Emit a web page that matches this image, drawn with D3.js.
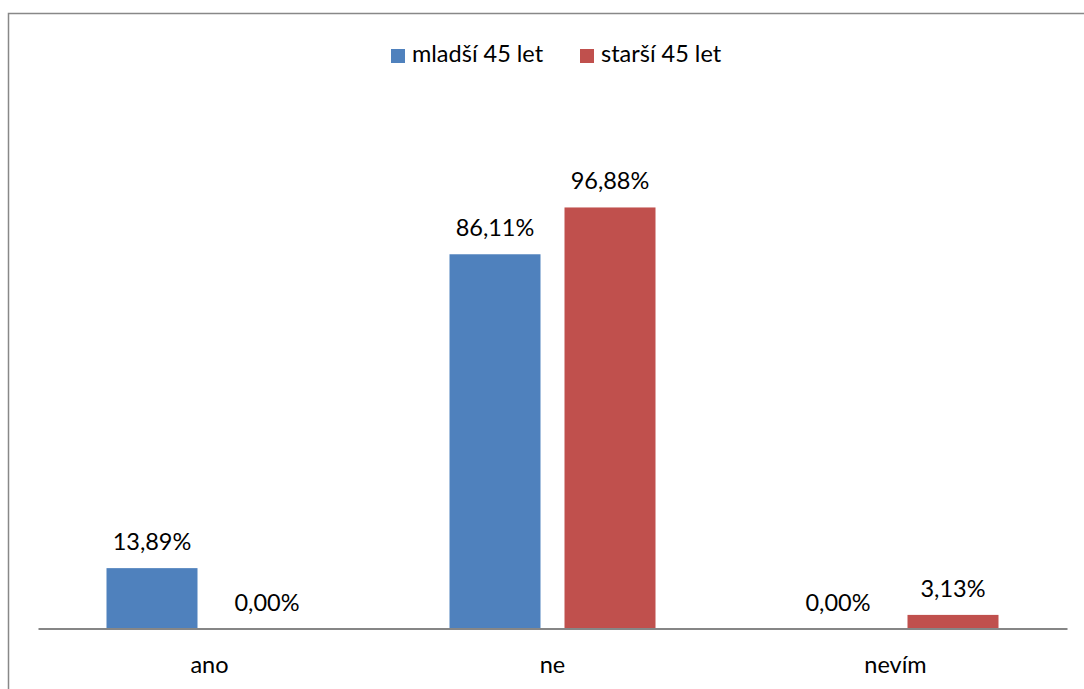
<!DOCTYPE html>
<html>
<head>
<meta charset="utf-8">
<script src="https://cdn.jsdelivr.net/npm/d3@7"></script>
<style>
  html, body { margin: 0; padding: 0; background: #fff; }
  svg { display: block; }
  text { font-family: Lato, "Open Sans", sans-serif; fill: #000; }
</style>
</head>
<body>
<svg id="chart" width="1084" height="689"></svg>
<script>
// Answers by age group (percent of respondents)
const categories = ["ano", "ne", "nevím"];
const seriesNames = ["mladší 45 let", "starší 45 let"];
const younger = [13.89, 86.11, 0.00];
const older = [0.00, 96.88, 3.13];
const seriesColors = ["#4F81BD", "#C0504D"];

const fmt = v => v.toFixed(2).replace(".", ",") + "%";
const FONT_SIZE = 23.5;

const svg = d3.select("#chart");
const W = 1084, H = 689;

// outer frame of the chart area
svg.append("rect")
  .attr("x", 8.5).attr("y", 13.5)
  .attr("width", W + 20).attr("height", H + 20)
  .attr("fill", "none")
  .attr("stroke", "#888888")
  .attr("stroke-width", 1.5);

const plot = { left: 38, right: 1067, bottom: 628.5 };

const x0 = d3.scaleBand()
  .domain(categories)
  .range([plot.left, plot.right])
  .paddingInner(0)
  .paddingOuter(0);

// two bars per group with a gap between them
const groupInner = 206;
const x1 = d3.scaleBand()
  .domain(seriesNames)
  .range([0, groupInner])
  .paddingInner(24 / 115)
  .paddingOuter(0);

const y = d3.scaleLinear()
  .domain([0, 100])
  .range([plot.bottom, plot.bottom - 434.6]);

const rows = categories.map((c, i) => ({
  category: c,
  values: [
    { series: seriesNames[0], value: younger[i], color: seriesColors[0] },
    { series: seriesNames[1], value: older[i], color: seriesColors[1] }
  ]
}));

const groups = svg.append("g").selectAll("g")
  .data(rows)
  .join("g")
  .attr("transform", d => `translate(${x0(d.category) + (x0.bandwidth() - groupInner) / 2},0)`);

groups.selectAll("rect")
  .data(d => d.values)
  .join("rect")
  .attr("x", d => x1(d.series))
  .attr("y", d => y(d.value))
  .attr("width", x1.bandwidth())
  .attr("height", d => y(0) - y(d.value))
  .attr("fill", d => d.color);

groups.selectAll("text.value")
  .data(d => d.values)
  .join("text")
  .attr("class", "value")
  .attr("x", d => x1(d.series) + x1.bandwidth() / 2)
  .attr("y", d => y(d.value) - 18)
  .attr("text-anchor", "middle")
  .attr("font-size", FONT_SIZE)
  .text(d => fmt(d.value));

// category axis
const xAxis = svg.append("g")
  .attr("transform", `translate(0,${plot.bottom})`)
  .call(d3.axisBottom(x0).tickSize(0).tickPadding(0));
xAxis.select(".domain")
  .attr("stroke", "#868686")
  .attr("stroke-width", 2);
xAxis.selectAll(".tick text")
  .attr("font-size", FONT_SIZE)
  .attr("font-family", "Lato, 'Open Sans', sans-serif")
  .attr("dy", 0)
  .attr("y", 44)
  .attr("fill", "#000");

// legend
const legend = svg.append("g");
const legendItems = [
  { name: seriesNames[0], color: seriesColors[0], x: 391 },
  { name: seriesNames[1], color: seriesColors[1], x: 580 }
];
const li = legend.selectAll("g")
  .data(legendItems)
  .join("g")
  .attr("transform", d => `translate(${d.x},49)`);
li.append("rect")
  .attr("width", 14).attr("height", 14)
  .attr("fill", d => d.color);
li.append("text")
  .attr("x", 21).attr("y", 13)
  .attr("font-size", FONT_SIZE)
  .text(d => d.name);
</script>
</body>
</html>
